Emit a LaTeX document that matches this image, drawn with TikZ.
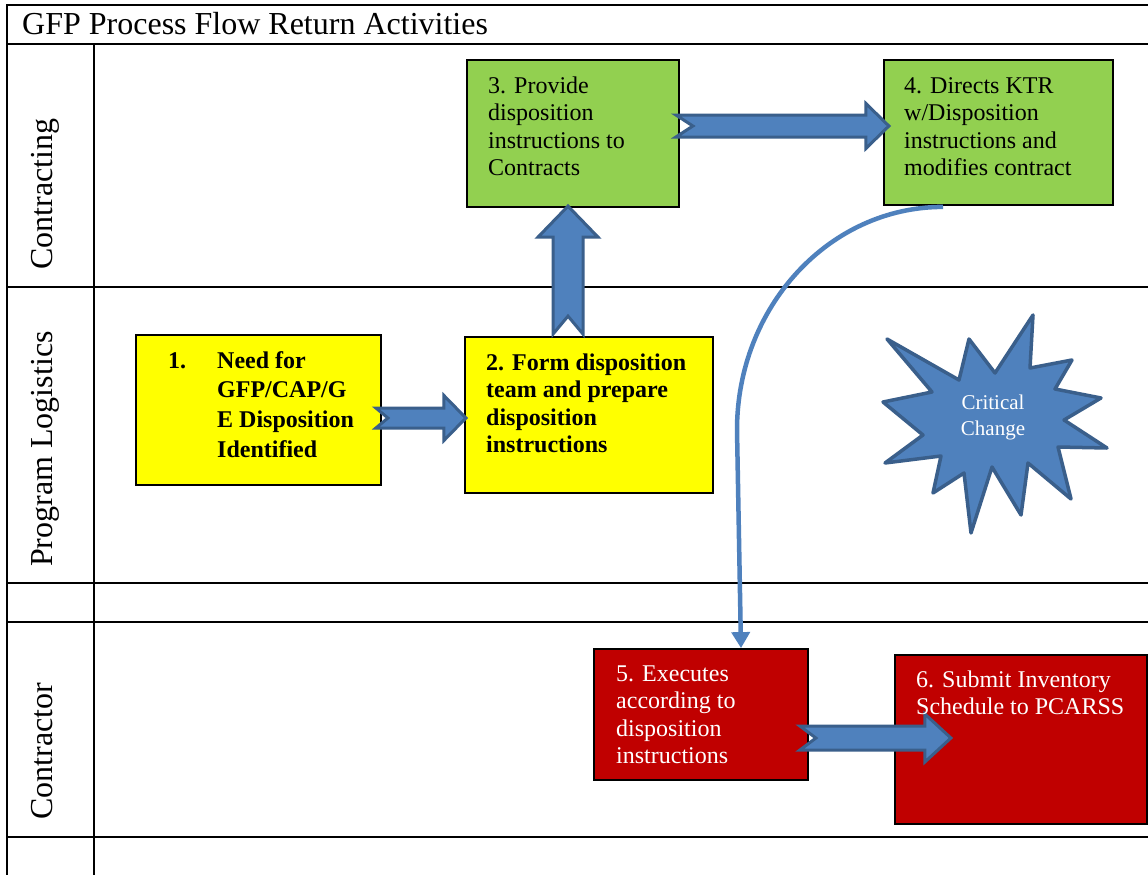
\documentclass[tikz,border=0pt]{standalone}
\usepackage{fontspec}
\setmainfont{Liberation Serif}
\usetikzlibrary{calc,arrows.meta}

\definecolor{boxgreen}{HTML}{92D050}
\definecolor{boxyellow}{HTML}{FFFF00}
\definecolor{boxred}{HTML}{C00000}
\definecolor{flowblue}{HTML}{4F81BD}
\definecolor{flowedge}{HTML}{3A5F8B}

\tikzset{
  grid/.style={line width=2pt, black},
  stepbox/.style={draw=black, line width=1.8pt, rectangle, inner sep=0pt},
  % multi-line texts are placed by the baseline of their last line
  boxtext/.style={inner sep=0pt, align=left, anchor=base west,
    font=\fontsize{24}{27.6}\selectfont},
  lanelabel/.style={inner sep=0pt, rotate=90, anchor=base west,
    font=\fontsize{32}{38}\selectfont},
  blockarrow/.style={fill=flowblue, draw=flowedge, line width=3pt, line join=miter},
  flowline/.style={draw=flowblue, line width=4.5pt},
  pics/notched/.style n args={5}{code={
    \path[blockarrow] (0,-#2) -- ({#1-#4},-#2) -- ({#1-#4},-#3) -- (#1,0)
      -- ({#1-#4},#3) -- ({#1-#4},#2) -- (0,#2) -- (#5,0) -- cycle;
  }}
}

\begin{document}
\begin{tikzpicture}[x=1pt,y=-1pt]
\useasboundingbox (0,0) rectangle (1148,875);
\fill[white] (0,0) rectangle (1148,875);

% table grid
\draw[grid] (7,875) -- (7,5) -- (1148,5);
\draw[grid] (7,44) -- (1148,44);
\draw[grid] (7,287) -- (1148,287);
\draw[grid] (7,583) -- (1148,583);
\draw[grid] (7,622) -- (1148,622);
\draw[grid] (7,837) -- (1148,837);
\draw[grid] (94,44) -- (94,875);

% title and swim-lane labels
\node[inner sep=0pt, anchor=base west, font=\fontsize{32}{38}\selectfont] (title) at (22,35) {GFP Process Flow Return Activities};
\node[lanelabel] (lane1) at (52,270) {Contracting};
\node[lanelabel] (lane2) at (52,567) {Program Logistics};
\node[lanelabel] (lane3) at (52,820) {Contractor};

% process boxes
\node[stepbox, fill=boxyellow, minimum width=245pt, minimum height=150pt] (b1) at (258.5,410) {};
\node[stepbox, fill=boxyellow, minimum width=248pt, minimum height=156pt] (b2) at (589,415) {};
\node[stepbox, fill=boxgreen, minimum width=212pt, minimum height=147pt] (b3) at (573,133.5) {};
\node[stepbox, fill=boxgreen, minimum width=229pt, minimum height=145pt] (b4) at (998.5,132.5) {};
\node[stepbox, fill=boxred, minimum width=214pt, minimum height=131pt] (b5) at (701,714.5) {};
\node[stepbox, fill=boxred, minimum width=252pt, minimum height=169pt] (b6) at (1021,739.5) {};

% block arrows between steps
\pic (a12) at ($(b1.east)+(-6,8)$) {notched={90}{10}{22.5}{22}{12}};
\pic[rotate=90] (a23) at ($(b2.north)+(-21,-2)$) {notched={128}{15}{30}{31}{18}};
\pic (a34) at ($(b3.east)+(-4,-7.5)$) {notched={213}{11}{22.5}{23}{17}};
\pic (a56) at ($(b5.east)+(-9,23.5)$) {notched={151}{12}{24}{26}{16}};

% box texts
\node[boxtext, font=\fontsize{24}{29.7}\selectfont\bfseries] (t1n) at (168,368) {1.};
\node[boxtext, font=\fontsize{24}{29.7}\selectfont\bfseries] (t1) at (217,457.1) {Need for\\GFP/CAP/G\\E Disposition\\Identified};
\node[boxtext, font=\fontsize{24}{27.6}\selectfont\bfseries] (t2) at (486,452.8) {2. Form disposition\\team and prepare\\disposition\\instructions};
\node[boxtext] (t3) at (488,175.8) {3. Provide\\disposition\\instructions to\\Contracts};
\node[boxtext] (t4) at (904,175.8) {4. Directs KTR\\w/Disposition\\instructions and\\modifies contract};
\node[boxtext, text=white] (t5) at (616,763.8) {5. Executes\\according to\\disposition\\instructions};
\node[boxtext, text=white] (t6) at (916,714.6) {6. Submit Inventory\\Schedule to PCARSS};

% curved connector from step 4 down to step 5
\coordinate (bend) at (737,430);
\draw[flowline, -{Triangle[length=16pt,width=18pt]}]
  ([xshift=-55.5pt,yshift=-1pt]b4.south) .. controls +(-114,0) and +(0,-123) .. (bend)
  -- ([xshift=40pt]b5.north);

% critical change burst
\path[blockarrow, line width=3.5pt, line join=round]
  (1033,315) -- (1030,368) -- (1072,360) -- (1055,389) -- (1101,398)
  -- (1064,420) -- (1107,448) -- (1058,447) -- (1071,499) -- (1028,463)
  -- (1021,515) -- (992,467) -- (971,533) -- (964,473) -- (933,493)
  -- (941,456) -- (885,463) -- (923,435) -- (883,402) -- (932,392)
  -- (887,339) -- (959,380) -- (969,339) -- (995,373) -- cycle;
\node[inner sep=0pt, align=center, text=white, font=\fontsize{21}{26}\selectfont] (crit) at (993,417) {Critical\\Change};
\end{tikzpicture}
\end{document}
